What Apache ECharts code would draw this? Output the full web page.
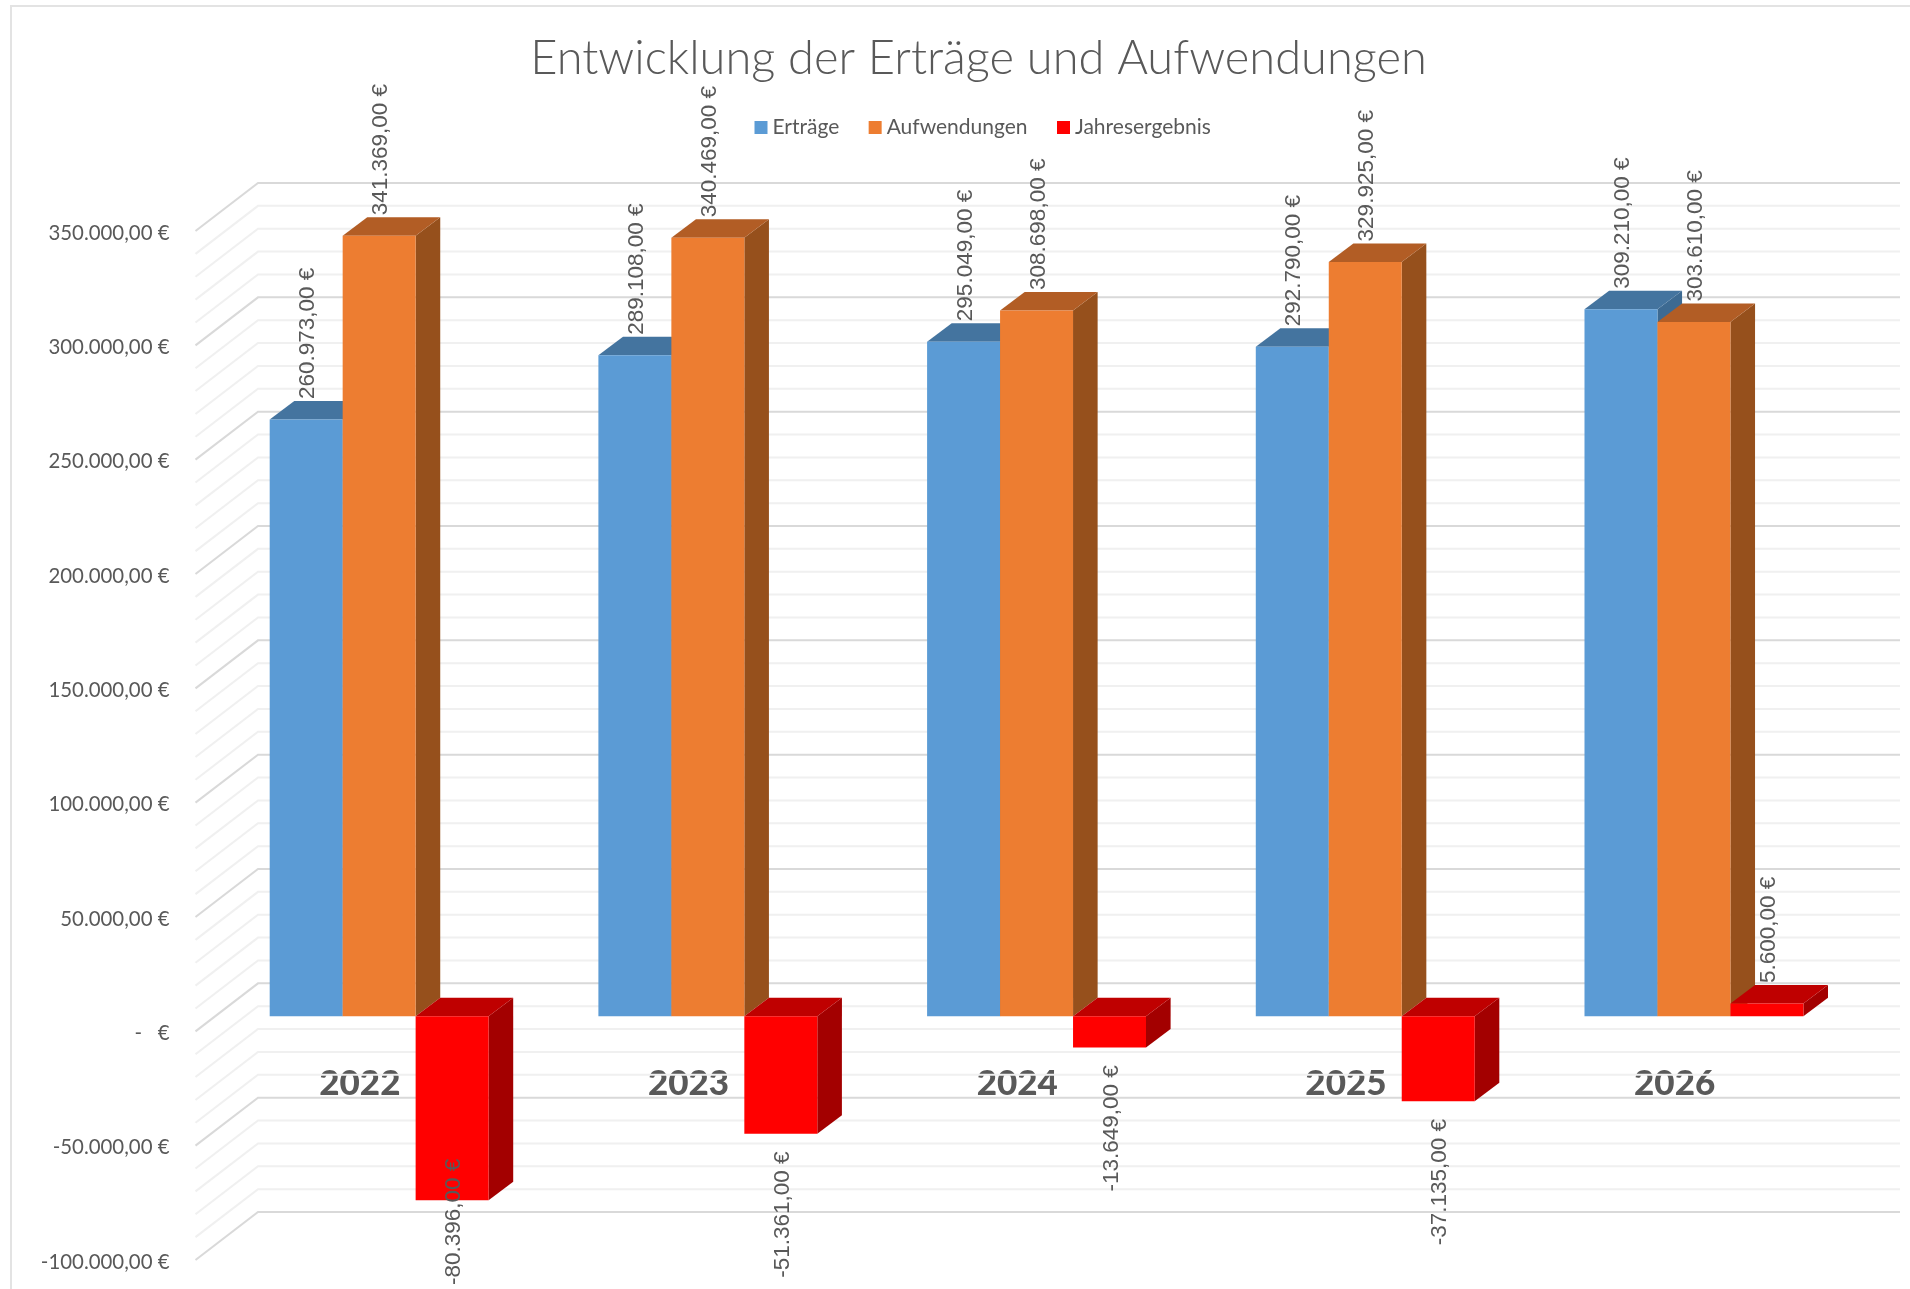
<!DOCTYPE html>
<html>
<head>
<meta charset="utf-8">
<style>html,body{margin:0;padding:0;background:#fff}#c{width:1910px;height:1289px;filter:blur(0.6px)}</style>
<script src="https://cdn.jsdelivr.net/npm/echarts@6/dist/echarts.min.js"></script>
</head>
<body>
<div id="c"></div>
<script>
const categories = ['2022', '2023', '2024', '2025', '2026'];
const ertraege = [260973, 289108, 295049, 292790, 309210];
const aufwendungen = [341369, 340469, 308698, 329925, 303610];
const jahresergebnis = [-80396, -51361, -13649, -37135, 5600];
const seriesNames = ['Erträge', 'Aufwendungen', 'Jahresergebnis'];
const seriesColors = ['#5B9BD5', '#ED7D31', '#FF0000'];
const topColors = ['#44749F', '#B25D25', '#BF0000'];
const sideColors = ['#3D6A92', '#96501C', '#A30000'];
const titleText = 'Entwicklung der Erträge und Aufwendungen';

const AXIS_MIN = -100000, AXIS_MAX = 350000, MAJOR = 50000, MINOR = 10000;
const GRID = {left: 195.5, right: 71, top: 233, bottom: 27, outerBoundsMode: 'none'};
const PLANE_DY = 2;
const WALL_DX = 62.5, WALL_DY = 48, WALL_RIGHT = 1900;
const BAR_W_RATIO = 0.222, GROUP_SHIFT = 19.3, FRONT_DY = 15, BAR_DX = 24.6, BAR_DY = 18.5;
const LABEL_LIMIT = 1285, NEG_LABEL_LEN = 127;
const GREY = '#595959';

const gridValues = [];
for (let v = AXIS_MIN; v <= AXIS_MAX; v += MINOR) gridValues.push([0, v]);

function euro(v) {
  const abs = Math.abs(v);
  const s = String(abs).replace(/\B(?=(\d{3})+$)/g, '.');
  return (v < 0 ? '-' : '') + s + ',00 €';
}

function wallItem(params, api) {
  const v = api.value(1);
  const y = api.coord([0, v])[1] - PLANE_DY;
  const x0 = params.coordSys.x;
  const major = v % MAJOR === 0;
  return {
    type: 'polyline',
    shape: {points: [[x0, y], [x0 + WALL_DX, y - WALL_DY], [WALL_RIGHT, y - WALL_DY]]},
    style: {fill: null, stroke: major ? '#D9D9D9' : '#F0F0F0', lineWidth: 2},
    silent: true
  };
}

function barItem(si) {
  return function (params, api) {
    const i = api.value(0), v = api.value(1);
    const band = api.size([1, 0])[0];
    const w = band * BAR_W_RATIO;
    const cx = api.coord([i, 0])[0] + GROUP_SHIFT;
    const xl = cx - 1.5 * w + si * w, xr = xl + w;
    const y0 = api.coord([i, 0])[1] - PLANE_DY - FRONT_DY;
    const yv = api.coord([i, v])[1] - PLANE_DY - FRONT_DY;
    const yt = Math.min(y0, yv), yb = Math.max(y0, yv);
    const poly = (pts, fill) => ({type: 'polygon', shape: {points: pts}, style: {fill: fill, stroke: null}});
    const children = [
      poly([[xr, yt], [xr + BAR_DX, yt - BAR_DY], [xr + BAR_DX, yb - BAR_DY], [xr, yb]], sideColors[si]),
      poly([[xl, yt], [xl + BAR_DX, yt - BAR_DY], [xr + BAR_DX, yt - BAR_DY], [xr, yt]], topColors[si]),
      {type: 'rect', shape: {x: xl, y: yt, width: w, height: yb - yt}, style: {fill: seriesColors[si]}}
    ];
    const anchorY = v >= 0 ? yt - BAR_DY - 2 : Math.min(yb + 17 + NEG_LABEL_LEN, LABEL_LIMIT);
    children.push({
      type: 'text',
      x: xl + w / 2 + 2,
      y: anchorY,
      rotation: Math.PI / 2,
      style: {
        text: euro(v),
        fill: GREY,
        font: '22.5px "Liberation Sans"',
        textAlign: 'left',
        textVerticalAlign: 'middle'
      }
    });
    return {type: 'group', children: children};
  };
}

const values = [ertraege, aufwendungen, jahresergebnis];
const barSeries = seriesNames.map((name, si) => ({
  type: 'custom',
  name: name,
  coordinateSystem: 'cartesian2d',
  encode: {x: 0, y: 1},
  clip: false,
  itemStyle: {color: seriesColors[si]},
  data: values[si].map((v, i) => [i, v]),
  renderItem: barItem(si),
  z: 3
}));

const chart = echarts.init(document.getElementById('c'));
chart.setOption({
  animation: false,
  backgroundColor: '#fff',
  title: {
    text: titleText,
    left: 973.5,
    top: 30,
    textAlign: 'center',
    textStyle: {fontFamily: 'Lato', fontWeight: 300, fontSize: 47, color: GREY}
  },
  legend: {
    data: seriesNames,
    left: 749.5,
    top: 112,
    icon: 'rect',
    itemWidth: 13,
    itemHeight: 13,
    itemGap: 29.4,
    textStyle: {fontFamily: 'Lato', fontSize: 21, color: GREY}
  },
  grid: GRID,
  xAxis: {
    type: 'category',
    data: categories,
    position: 'bottom',
    offset: -229,
    axisLine: {show: false, onZero: false},
    axisTick: {show: false},
    axisLabel: {
      margin: 33,
      fontFamily: 'Lato',
      fontWeight: 900,
      fontSize: 35,
      color: GREY
    }
  },
  yAxis: {
    type: 'value',
    min: AXIS_MIN,
    max: AXIS_MAX,
    interval: MAJOR,
    axisLine: {show: false},
    axisTick: {show: false},
    splitLine: {show: false},
    axisLabel: {
      margin: 26,
      fontFamily: 'Lato',
      fontSize: 20.4,
      color: GREY,
      formatter: v => v === 0 ? '-   €' : String(v).replace(/\B(?=(\d{3})+$)/g, '.') + ',00 €'
    }
  },
  graphic: [
    {type: 'polyline', silent: true, z: -10,
     shape: {points: [[11, 1289], [11, 6], [1910, 6]]},
     style: {fill: null, stroke: '#E3E3E3', lineWidth: 2}}
  ],
  series: [{
    type: 'custom',
    name: 'Raster',
    coordinateSystem: 'cartesian2d',
    encode: {x: 0, y: 1},
    clip: false,
    silent: true,
    data: gridValues,
    renderItem: wallItem,
    z: 1
  }].concat(barSeries)
});
</script>
</body>
</html>
